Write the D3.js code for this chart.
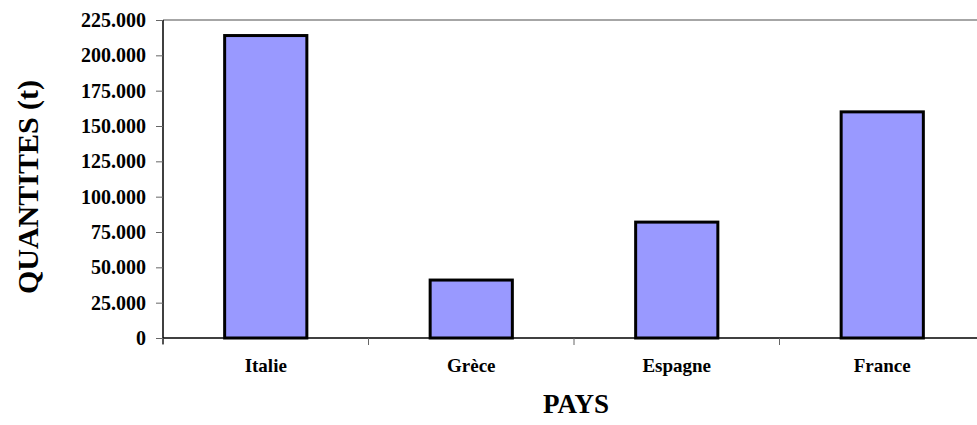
<!DOCTYPE html>
<html>
<head>
<meta charset="utf-8">
<script src="https://cdn.jsdelivr.net/npm/d3@7"></script>
<style>
  body { margin: 0; background: #fff; }
</style>
</head>
<body>
<div class="chart"></div>
<script>
// data
var pays = ["Italie", "Grèce", "Espagne", "France"];
var quantites = [214000, 41000, 82000, 160000];
var yTicks = [0, 25000, 50000, 75000, 100000, 125000, 150000, 175000, 200000, 225000];

var serif = "'Liberation Serif', 'Times New Roman', 'DejaVu Serif', serif";

var svgWidth = 977;
var svgHeight = 425;
var margin = { top: 20, right: -8, bottom: 87, left: 163 };
var width = svgWidth - margin.left - margin.right;
var height = svgHeight - margin.top - margin.bottom;

var svg = d3.select(".chart")
    .append("svg")
    .attr("width", svgWidth)
    .attr("height", svgHeight);

var chartGroup = svg.append("g")
    .attr("transform", `translate(${margin.left}, ${margin.top})`);

var xScale = d3.scaleBand()
    .domain(pays)
    .range([0, width])
    .paddingInner(0.6)
    .paddingOuter(0.3);

var yScale = d3.scaleLinear()
    .domain([0, 225000])
    .range([height, 0]);

// frame top line (gray)
chartGroup.append("line")
    .attr("x1", 0).attr("x2", width)
    .attr("y1", 0).attr("y2", 0)
    .attr("stroke", "#888").attr("stroke-width", 1.5);

// y axis
var fmt = function(d) { return d3.format(",")(d).replace(/,/g, "."); };
var yAxis = chartGroup.append("g")
    .call(d3.axisLeft(yScale).tickValues(yTicks).tickFormat(fmt).tickSize(7).tickPadding(10));
yAxis.attr("font-family", serif).attr("font-size", 20).attr("font-weight", "bold");
yAxis.select(".domain").attr("stroke", "#000").attr("stroke-width", 1.5)
    .attr("d", `M0,0V${height + 6}`);
yAxis.selectAll(".tick line").attr("stroke", "#666");
yAxis.selectAll(".tick text")
    .style("font-family", serif)
    .style("font-size", "20px")
    .style("font-weight", "bold")
    .attr("fill", "#000");

// x axis: ticks at category boundaries
var bounds = d3.range(pays.length + 1).map(function(i) { return i * width / pays.length; });
chartGroup.append("line")
    .attr("x1", 0).attr("x2", width)
    .attr("y1", height).attr("y2", height)
    .attr("stroke", "#000").attr("stroke-width", 1.5);
chartGroup.selectAll(".xtick")
    .data(bounds)
    .join("line")
    .attr("class", "xtick")
    .attr("x1", d => d).attr("x2", d => d)
    .attr("y1", height).attr("y2", height + 7)
    .attr("stroke", "#666");

// bars
chartGroup.selectAll("rect.bar")
    .data(pays)
    .join("rect")
    .attr("class", "bar")
    .attr("x", d => xScale(d))
    .attr("y", (d, i) => yScale(quantites[i]))
    .attr("width", xScale.bandwidth())
    .attr("height", (d, i) => height - yScale(quantites[i]))
    .attr("fill", "#9999FF")
    .attr("stroke", "#000")
    .attr("stroke-width", 3);

// category labels
chartGroup.selectAll("text.cat")
    .data(pays)
    .join("text")
    .attr("class", "cat")
    .attr("x", d => xScale(d) + xScale.bandwidth() / 2)
    .attr("y", height + 34)
    .attr("text-anchor", "middle")
    .style("font-family", serif)
    .style("font-size", "19px")
    .style("font-weight", "bold")
    .text(d => d);

// axis titles
svg.append("text")
    .attr("x", 576)
    .attr("y", 413)
    .attr("text-anchor", "middle")
    .style("font-family", serif)
    .style("font-size", "27px")
    .style("font-weight", "bold")
    .text("PAYS");

svg.append("text")
    .attr("transform", "translate(38, 187) rotate(-90)")
    .attr("text-anchor", "middle")
    .style("font-family", serif)
    .style("font-size", "30px")
    .style("font-weight", "bold")
    .text("QUANTITES (t)");
</script>
</body>
</html>
